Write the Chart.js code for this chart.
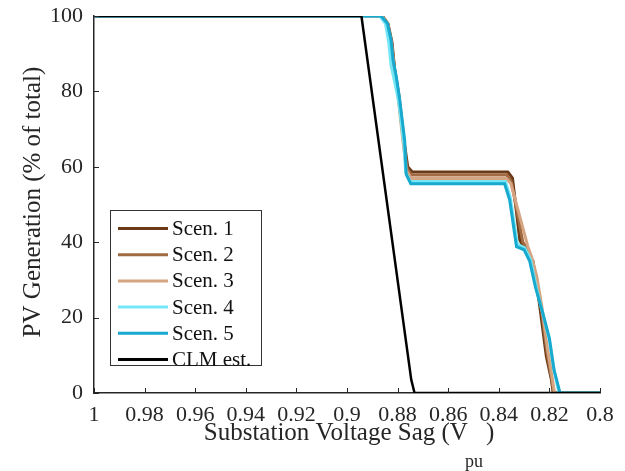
<!DOCTYPE html>
<html>
<head>
<meta charset="utf-8">
<script src="https://cdn.jsdelivr.net/npm/chart.js@4"></script>
<style>
    html, body { margin: 0; padding: 0; background: #fff; }
    #wrap { width: 625px; height: 471px; }
</style>
</head>
<body>
<div id="wrap"><canvas id="sagChart" width="625" height="471"></canvas></div>
<script>
// --- Data: PV generation vs. substation voltage sag ---
const xTicks = [1, 0.98, 0.96, 0.94, 0.92, 0.9, 0.88, 0.86, 0.84, 0.82, 0.8];
const yTicks = [0, 20, 40, 60, 80, 100];

const seriesLabels = ['Scen. 1', 'Scen. 2', 'Scen. 3', 'Scen. 4', 'Scen. 5', 'CLM est.'];
const seriesColors = ['#6b3a18', '#a16a41', '#d5a582', '#74e6f6', '#18a9cf', '#000000'];

const scen1V = [1, 0.8860, 0.8838, 0.8822, 0.8812, 0.8795, 0.8775, 0.8760, 0.8742, 0.8364, 0.8346, 0.8317, 0.8300, 0.8265, 0.8240, 0.8212, 0.8192, 0.8185, 0.8];
const scen1P = [100, 100, 98, 93, 86, 79, 67, 60, 58.6, 58.6, 57, 40.6, 38.5, 35, 24, 9.7, 3.5, 0, 0];

const scen2V = [1, 0.8862, 0.8840, 0.8824, 0.8813, 0.8797, 0.8777, 0.8762, 0.8745, 0.8368, 0.8350, 0.8305, 0.8285, 0.8260, 0.8235, 0.8210, 0.8192, 0.8183, 0.8];
const scen2P = [100, 100, 98, 93, 86.5, 79, 67, 59.5, 57.8, 57.8, 56, 40, 38, 33, 24, 11, 4, 0, 0];

const scen3V = [1, 0.8862, 0.8840, 0.8825, 0.8815, 0.8800, 0.8780, 0.8765, 0.8746, 0.8370, 0.8352, 0.8285, 0.8270, 0.8250, 0.8230, 0.8208, 0.8190, 0.8180, 0.8];
const scen3P = [100, 100, 98, 93, 87, 79.5, 67.5, 59, 56.9, 56.9, 55.5, 38.8, 36, 31, 23, 12, 4.5, 0, 0];

const scen4V = [1, 0.8870, 0.8848, 0.8835, 0.8826, 0.8810, 0.8795, 0.8775, 0.8768, 0.8750, 0.8374, 0.8355, 0.8327, 0.8298, 0.8275, 0.8250, 0.8222, 0.8200, 0.8180, 0.8162, 0.8];
const scen4P = [100, 100, 98, 93, 87, 82, 77, 66, 58.5, 56.1, 56.1, 52, 39.5, 38.5, 35.5, 27.5, 20, 14, 5.5, 0, 0];

const scen5V = [1, 0.8865, 0.8840, 0.8826, 0.8818, 0.8805, 0.8792, 0.8772, 0.8766, 0.8748, 0.8377, 0.8357, 0.8330, 0.8300, 0.8278, 0.8255, 0.8226, 0.8200, 0.8182, 0.8158, 0.8];
const scen5P = [100, 100, 98, 93.6, 88.3, 83.8, 78, 67, 58, 55.5, 55.5, 51.2, 38.8, 38, 35, 28, 21.2, 14.5, 6.2, 0, 0];

const clmV = [1, 0.8943, 0.8746, 0.8733, 0.8];
const clmP = [100, 100, 3.5, 0, 0];

const seriesV = [scen1V, scen2V, scen3V, scen4V, scen5V, clmV];
const seriesP = [scen1P, scen2P, scen3P, scen4P, scen5P, clmP];

const SERIF = '"Liberation Serif", "Times New Roman", serif';
const AXIS_COLOR = '#262626';

function toPoints(vs, ps) {
    return vs.map((v, i) => ({ x: v, y: ps[i] }));
}

const datasets = seriesLabels.map((label, i) => ({
    label: label,
    data: toPoints(seriesV[i], seriesP[i]),
    borderColor: seriesColors[i],
    backgroundColor: seriesColors[i],
    borderWidth: i === 5 ? 2.5 : 3,
    pointRadius: 0,
    tension: 0,
    // later series sit on top, CLM on top of everything
    order: seriesLabels.length - 1 - i
}));

// --- Inward ticks, axis titles and boxed legend ---
const decorPlugin = {
    id: 'decor',
    afterDraw(chart) {
        const ctx = chart.ctx;
        const area = chart.chartArea;
        const xs = chart.scales.x;
        const ys = chart.scales.y;

        ctx.save();
        ctx.strokeStyle = AXIS_COLOR;
        ctx.lineWidth = 1;
        xTicks.forEach(t => {
            const px = Math.round(xs.getPixelForValue(t)) + 0.5;
            ctx.beginPath();
            ctx.moveTo(px, area.bottom);
            ctx.lineTo(px, area.bottom - 5);
            ctx.stroke();
        });
        yTicks.forEach(t => {
            const py = Math.round(ys.getPixelForValue(t)) + 0.5;
            ctx.beginPath();
            ctx.moveTo(area.left, py);
            ctx.lineTo(area.left + 5, py);
            ctx.stroke();
        });

        // x title with subscript
        ctx.fillStyle = AXIS_COLOR;
        ctx.textBaseline = 'alphabetic';
        const main = 'Substation Voltage Sag (V';
        ctx.font = '25px ' + SERIF;
        const wMain = ctx.measureText(main).width;
        const wClose = ctx.measureText(')').width;
        ctx.font = '18px ' + SERIF;
        const wSub = ctx.measureText('pu').width;
        const gap = -3;
        const total = wMain + gap + wSub + 3 + wClose;
        let tx = (area.left + area.right) / 2 - total / 2 + 2;
        const base = 440;
        ctx.font = '25px ' + SERIF;
        ctx.textAlign = 'left';
        ctx.fillText(main, tx, base);
        tx += wMain + gap;
        ctx.font = '18px ' + SERIF;
        ctx.fillText('pu', tx, base + 27);
        tx += wSub + 3;
        ctx.font = '25px ' + SERIF;
        ctx.fillText(')', tx, base);

        // y title
        ctx.save();
        ctx.translate(33, 202);
        ctx.rotate(-Math.PI / 2);
        ctx.textAlign = 'center';
        ctx.textBaseline = 'middle';
        ctx.font = '25px ' + SERIF;
        ctx.fillText('PV Generation (% of total)', 0, 0);
        ctx.restore();

        // legend
        const lx = 110.5, ly = 210.5, lw = 151, lh = 155;
        ctx.fillStyle = '#ffffff';
        ctx.fillRect(lx, ly, lw, lh);
        ctx.strokeStyle = '#333333';
        ctx.lineWidth = 1;
        ctx.strokeRect(lx, ly, lw, lh);
        ctx.font = '21px ' + SERIF;
        ctx.textAlign = 'left';
        ctx.textBaseline = 'middle';
        seriesLabels.forEach((label, i) => {
            const ry = 228.5 + i * 26.2;
            ctx.strokeStyle = seriesColors[i];
            ctx.lineWidth = 3;
            ctx.beginPath();
            ctx.moveTo(118, ry);
            ctx.lineTo(168, ry);
            ctx.stroke();
            ctx.fillStyle = '#111111';
            ctx.fillText(label, 172, ry + 1);
        });
        ctx.restore();
    }
};

const ctx = document.getElementById('sagChart').getContext('2d');

new Chart(ctx, {
    type: 'line',
    data: { datasets: datasets },
    options: {
        responsive: false,
        animation: false,
        layout: { padding: { top: 16, right: 25, left: 0, bottom: 0 } },
        plugins: {
            legend: { display: false },
            tooltip: { enabled: false }
        },
        scales: {
            x: {
                type: 'linear',
                reverse: true,
                min: 0.8,
                max: 1,
                afterBuildTicks: (axis) => { axis.ticks = xTicks.map(v => ({ value: v })); },
                afterFit: (axis) => {
                    axis.height = 78;
                    axis.paddingLeft = 0;
                    axis.paddingRight = 0;
                },
                grid: { display: false, drawTicks: false },
                border: { display: true, color: AXIS_COLOR, width: 1.5 },
                ticks: {
                    padding: 9,
                    color: AXIS_COLOR,
                    maxRotation: 0,
                    autoSkip: false,
                    font: { family: SERIF, size: 22 },
                    callback: (v) => String(Math.round(v * 100) / 100)
                }
            },
            y: {
                type: 'linear',
                min: 0,
                max: 100,
                afterBuildTicks: (axis) => { axis.ticks = yTicks.map(v => ({ value: v })); },
                afterFit: (axis) => {
                    axis.width = 94;
                    axis.paddingTop = 0;
                    axis.paddingBottom = 0;
                },
                grid: { display: false, drawTicks: false },
                border: { display: true, color: AXIS_COLOR, width: 1.5 },
                ticks: {
                    padding: 11,
                    color: AXIS_COLOR,
                    font: { family: SERIF, size: 22 }
                }
            }
        }
    },
    plugins: [decorPlugin]
});
</script>
</body>
</html>
